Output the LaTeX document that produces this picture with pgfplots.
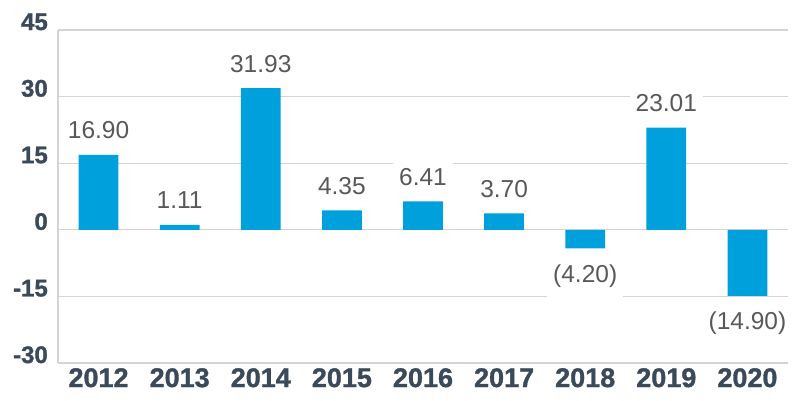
\documentclass[border=0pt]{standalone}
\usepackage{pgfplots}
\pgfplotsset{compat=1.18}
\usepackage{fontspec}
\setmainfont{Liberation Sans}
\newfontfamily\tickfont[BoldFeatures={FakeBold=1.2}]{Liberation Sans}
\definecolor{barblue}{HTML}{00A0DC}
\definecolor{ticknavy}{HTML}{3B4A5A}
\definecolor{labelgray}{HTML}{595959}
\definecolor{gridgray}{HTML}{D4D4D4}
\begin{document}
\begin{tikzpicture}
\begin{axis}[
	at = {(0,0)},
	anchor = south west,
	scale only axis,
	width = 730pt,
	height = 333pt,
	xmin = -0.5,
	xmax = 8.5,
	ymin = -30,
	ymax = 45,
	xtick = {0,...,8},
	xticklabels = {2012,2013,2014,2015,2016,2017,2018,2019,2020},
	ytick = {-30,-15,0,15,30,45},
	yticklabels = {-30,-15,0,15,30,45},
	axis lines* = left,
	x axis line style = {draw = none},
	y axis line style = {draw = gridgray, line width = 1.2pt},
	major tick length = 0pt,
	ymajorgrids,
	grid style = {draw = gridgray, line width = 1.2pt},
	yticklabel style = {anchor = base east, inner sep = 0pt, xshift = -10pt,
		font = \tickfont\bfseries\fontsize{24}{24}\selectfont, text = ticknavy},
	xticklabel style = {anchor = north, inner sep = 0pt, yshift = -5pt,
		font = \tickfont\bfseries\fontsize{27}{27}\selectfont, text = ticknavy},
	clip = false,
	point meta = explicit symbolic,
	nodes near coords,
]
\addplot[ybar, bar width = 0.49, bar shift = 0pt, fill = barblue, draw = none,
	every node near coord/.append style = {anchor = base, yshift = 16pt, fill = white,
		inner xsep = 6pt, inner ysep = 11pt, text = labelgray,
		font = \fontsize{24.5}{24.5}\selectfont}]
coordinates {
	(0, 16.90) [16.90]
	(1, 1.11) [1.11]
	(2, 31.93) [31.93]
	(3, 4.35) [4.35]
	(4, 6.41) [6.41]
	(5, 3.70) [3.70]
	(7, 23.01) [23.01]
};
\addplot[ybar, bar width = 0.49, bar shift = 0pt, fill = barblue, draw = none,
	every node near coord/.append style = {anchor = base, yshift = -34pt, fill = white,
		inner xsep = 6pt, inner ysep = 11pt, text = labelgray,
		font = \fontsize{24.5}{24.5}\selectfont}]
coordinates {
	(6, -4.20) [(4.20)]
	(8, -14.90) [(14.90)]
};
\end{axis}
\pgfresetboundingbox
\path (-58pt,-37pt) rectangle (742pt,363pt);
\end{tikzpicture}
\end{document}
